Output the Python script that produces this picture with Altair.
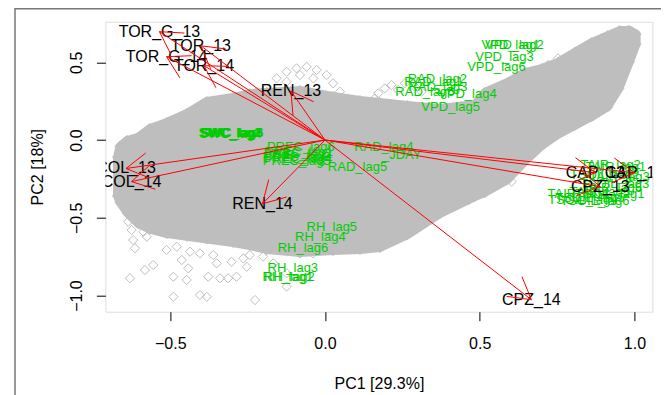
import math
import altair as alt
import pandas as pd

# ---------------- data ----------------
# active variables (red arrows, black labels)
arrow_names = ["TOR_G_13", "TOR_G_14", "TOR_13", "TOR_14", "REN_13", "REN_14",
               "COL_13", "COL_14", "CAP_13", "CAP_14", "CPZ_13", "CPZ_14"]
arrow_pc1 = [-0.535, -0.512, -0.401, -0.391, -0.110, -0.202,
             -0.643, -0.625, 0.874, 1.000, 0.890, 0.667]
arrow_pc2 = [0.697, 0.536, 0.606, 0.478, 0.315, -0.410,
             -0.183, -0.267, -0.210, -0.210, -0.300, -1.027]

# supplementary variables (green labels)
sup_names = ["VPD_lag1", "VPD_lag2", "VPD_lag3", "VPD_lag6", "VPD_lag4", "VPD_lag5",
             "RAD_lag2", "RAD_lag1", "RAD_lag3", "RAD_lag6", "RAD_lag4", "_JDAY", "RAD_lag5",
             "PREC_lag6", "PREC_lag1", "PREC_lag2", "PREC_lag3", "PREC_lag4", "PREC_lag5",
             "SWC_lag1", "SWC_lag2", "SWC_lag3", "SWC_lag4", "SWC_lag5", "SWC_lag6",
             "RH_lag5", "RH_lag4", "RH_lag6", "RH_lag3", "RH_lag1", "RH_lag2",
             "TAIR_lag2", "TAIR_lag1", "TAIR_lag3", "TSOIL_lag2", "TSOIL_lag3", "TAIR_lag6",
             "TAIR_lag5", "TAIR_lag4", "TSOIL_lag1", "TSOIL_lag4", "TSOIL_lag5", "TSOIL_lag6"]
sup_pc1 = [0.600, 0.612, 0.580, 0.554, 0.460, 0.406,
           0.363, 0.352, 0.365, 0.323, 0.190, 0.248, 0.105,
           -0.078, -0.084, -0.088, -0.091, -0.086, -0.091,
           -0.308, -0.305, -0.301, -0.306, -0.302, -0.299,
           0.022, -0.015, -0.071, -0.104, -0.120, -0.115,
           0.923, 0.940, 0.952, 0.904, 0.936, 0.927,
           0.888, 0.817, 0.920, 0.833, 0.856, 0.872]
sup_pc2 = [0.611, 0.608, 0.536, 0.468, 0.294, 0.214,
           0.395, 0.370, 0.344, 0.312, -0.043, -0.096, -0.176,
           -0.048, -0.077, -0.093, -0.109, -0.125, -0.138,
           0.047, 0.044, 0.046, 0.041, 0.043, 0.048,
           -0.561, -0.626, -0.696, -0.825, -0.884, -0.884,
           -0.161, -0.174, -0.238, -0.225, -0.283, -0.309,
           -0.334, -0.344, -0.347, -0.386, -0.376, -0.392]

# dense cloud of observations: outline (PC1, upper PC2, lower PC2)
blob_pc1 = [-0.672, -0.664, -0.640, -0.604, -0.566, -0.511, -0.446, -0.382, -0.297,
            -0.243, -0.188, -0.081, 0.026, 0.113, 0.177, 0.267, 0.371, 0.484, 0.516,
            0.590, 0.645, 0.700, 0.752, 0.807, 0.862, 0.914, 0.952, 0.985, 1.007]
blob_top = [-0.110, -0.040, 0.000, 0.020, 0.077, 0.116, 0.174, 0.251, 0.277,
            0.302, 0.309, 0.322, 0.283, 0.257, 0.244, 0.225, 0.206, 0.232, 0.309,
            0.373, 0.437, 0.463, 0.502, 0.566, 0.630, 0.675, 0.707, 0.707, 0.682]
blob_bottom = [-0.360, -0.400, -0.470, -0.540, -0.576, -0.605, -0.622, -0.640, -0.662,
               -0.682, -0.707, -0.727, -0.714, -0.707, -0.695, -0.611, -0.476, -0.367, -0.341,
               -0.257, -0.141, -0.039, 0.032, 0.090, 0.148, 0.212, 0.334, 0.502, 0.617]

# scattered observations outside the dense cloud
out_pc1 = [-0.636, -0.625, -0.620, -0.614, -0.587, -0.576, -0.630, -0.582, -0.555, -0.490,
           -0.447, -0.463, -0.442, -0.490, -0.404, -0.382, -0.377, -0.339, -0.313, -0.286,
           -0.253, -0.226, -0.124, -0.350, -0.302, -0.264, -0.167, -0.124, -0.081, -0.038,
           0.037, 0.070, -0.512, -0.479, -0.404, -0.361, -0.436, -0.243, -0.200,
           -0.156, -0.124, -0.092, -0.059, -0.027, 0.005, 0.026, 0.048, -0.124, -0.081,
           -0.038, -0.189, -0.221, 0.172, 0.193, 0.215, 0.236, 0.258, 0.290, 0.161, 0.312,
           0.656, 0.678, 0.721, 0.753, 0.807, 0.850, 0.893, 0.915, 0.936, 0.958, 0.979,
           0.990, 0.969, 0.915, 0.947, 0.979, 0.995,
           0.878, 0.810, 0.741, 0.672, 0.617, 0.562, 0.465, 0.581, 0.603]
out_pc2 = [-0.525, -0.579, -0.643, -0.696, -0.590, -0.622, -0.889, -0.836, -0.804, -0.879,
           -0.900, -0.772, -0.825, -1.008, -0.997, -1.008, -0.879, -0.889, -0.889, -0.879,
           -0.815, -1.029, -0.943, -0.793, -0.783, -0.761, -0.793, -0.857, -0.729, -0.729,
           -0.707, -0.696, -0.707, -0.686, -0.729, -0.740, -0.718, -0.740, -0.750,
           0.397, 0.439, 0.461, 0.471, 0.450, 0.418, 0.365, 0.311, 0.375, 0.418,
           0.397, 0.332, 0.311, 0.300, 0.332, 0.354, 0.322, 0.365, 0.343, 0.268, 0.311,
           0.418, 0.439, 0.482, 0.525, 0.568, 0.611, 0.654, 0.622, 0.611, 0.696, 0.707,
           0.654, 0.611, 0.547, 0.547, 0.622, 0.686,
           0.193, 0.109, 0.045, -0.043, -0.148, -0.257, -0.386, -0.246, -0.268]

x_ticks = [-0.5, 0.0, 0.5, 1.0]
y_ticks = [-1.0, -0.5, 0.0, 0.5]

# ---------------- layout ----------------
W, H = 547, 290
XD = [-0.7096, 1.058]
YD = [-1.104, 0.761]
SX = W / (XD[1] - XD[0])
SY = H / (YD[1] - YD[0])
FONT = "Liberation Sans"
GREY = "#BEBEBE"
GREEN = "#00CD00"
RED = "#FF0000"

xs = alt.Scale(domain=XD, nice=False, zero=False)
ys = alt.Scale(domain=YD, nice=False, zero=False)

blob = pd.DataFrame({"pc1": blob_pc1, "top": blob_top, "bottom": blob_bottom})
edge = pd.DataFrame({
    "pc1": blob_pc1 + blob_pc1 + out_pc1,
    "pc2": blob_top + blob_bottom + out_pc2,
})
arrows = pd.DataFrame({"name": arrow_names, "pc1": arrow_pc1, "pc2": arrow_pc2,
                       "o1": [0.0] * len(arrow_names), "o2": [0.0] * len(arrow_names)})
sup = pd.DataFrame({"name": sup_names, "pc1": sup_pc1, "pc2": sup_pc2})

# arrowheads: two 25px strokes at +-30 degrees from each tip
heads = []
for a, b in zip(arrow_pc1, arrow_pc2):
    bx, by = -a * SX, b * SY
    L = math.hypot(bx, by)
    ux, uy = bx / L, by / L
    for s in (1, -1):
        t = math.radians(30 * s)
        rx = ux * math.cos(t) - uy * math.sin(t)
        ry = ux * math.sin(t) + uy * math.cos(t)
        heads.append({"pc1": a, "pc2": b, "e1": a + 25 * rx / SX, "e2": b - 25 * ry / SY})
heads = pd.DataFrame(heads)

x_axis = alt.Axis(values=x_ticks, format=".1f", title="PC1 [29.3%]", grid=False, domain=False,
                  labelFont=FONT, labelFontSize=16, labelColor="black", labelPadding=15,
                  tickColor="black", tickSize=9, tickWidth=1,
                  titleFont=FONT, titleFontSize=16, titleFontWeight="normal", titleColor="black",
                  titleX=W / 2, titleY=77, titleBaseline="alphabetic", titleAlign="center")
y_axis = alt.Axis(values=y_ticks, format=".1f", title="PC2 [18%]", grid=False, domain=False,
                  labelFont=FONT, labelFontSize=16, labelColor="black", labelPadding=15,
                  labelAngle=270, labelAlign="center", labelBaseline="alphabetic",
                  tickColor="black", tickSize=9, tickWidth=1,
                  titleFont=FONT, titleFontSize=16, titleFontWeight="normal", titleColor="black",
                  titleAngle=270, titleX=-62.7, titleY=H / 2, titleBaseline="alphabetic",
                  titleAlign="center")

area = alt.Chart(blob).mark_area(color=GREY, opacity=1, clip=True, interpolate="linear",
                                 stroke=GREY, strokeWidth=8, strokeJoin="round").encode(
    x=alt.X("pc1:Q", scale=xs, axis=x_axis),
    y=alt.Y("top:Q", scale=ys, axis=y_axis),
    y2="bottom:Q",
)

pts = alt.Chart(edge).mark_point(shape="diamond", filled=False, size=85, color=GREY,
                                 strokeWidth=1, opacity=1, clip=True).encode(
    x=alt.X("pc1:Q", scale=xs), y=alt.Y("pc2:Q", scale=ys))

green = alt.Chart(sup).mark_text(font=FONT, fontSize=13, color=GREEN, align="center",
                                 baseline="middle", clip=True).encode(
    x=alt.X("pc1:Q", scale=xs), y=alt.Y("pc2:Q", scale=ys), text="name:N")

black = alt.Chart(arrows).mark_text(font=FONT, fontSize=16, color="black", align="center",
                                    baseline="middle", clip=True).encode(
    x=alt.X("pc1:Q", scale=xs), y=alt.Y("pc2:Q", scale=ys), text="name:N")

shafts = alt.Chart(arrows).mark_rule(color=RED, strokeWidth=1, clip=True).encode(
    x=alt.X("o1:Q", scale=xs), y=alt.Y("o2:Q", scale=ys), x2="pc1:Q", y2="pc2:Q")

tips = alt.Chart(heads).mark_rule(color=RED, strokeWidth=1, clip=True).encode(
    x=alt.X("pc1:Q", scale=xs), y=alt.Y("pc2:Q", scale=ys), x2="e1:Q", y2="e2:Q")

frame = alt.Chart(pd.DataFrame({"k": [0]})).mark_rect(
    filled=False, stroke="#777777", strokeWidth=1.5, fill=None).encode(
    x=alt.value(-90.4), x2=alt.value(640.0), y=alt.value(-12.9), y2=alt.value(420))

chart = alt.layer(frame, area, pts, green, black, shafts, tips).properties(
    width=W, height=H,
    padding={"left": 97.4, "top": 13.7, "right": 8.6, "bottom": 83.3},
    autosize=alt.AutoSizeParams(type="none"),
).configure_view(stroke="black", strokeWidth=1).configure(background="white")

chart.save("out.html", embed_options={"renderer": "svg", "actions": False})
